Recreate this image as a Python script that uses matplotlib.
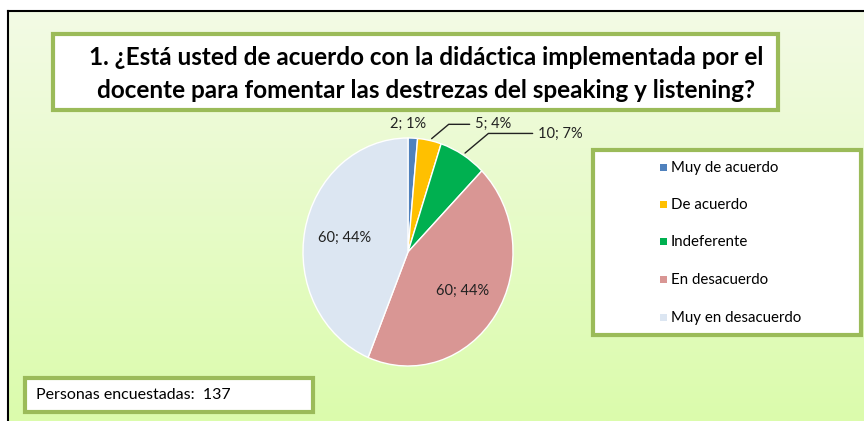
import numpy as np
import matplotlib.pyplot as plt
from matplotlib.patches import Rectangle

categorias = ['Muy de acuerdo', 'De acuerdo', 'Indeferente', 'En desacuerdo', 'Muy en desacuerdo']
valores = [2, 5, 10, 60, 60]
porcentajes = [1, 4, 7, 44, 44]
colores = ['#4f81bd', '#ffc000', '#00b050', '#d99694', '#dce6f2']
titulo = '1. ¿Está usted de acuerdo con la didáctica implementada por el\ndocente para fomentar las destrezas del speaking y listening?'
total = 137

W, H = 864, 421
fig = plt.figure(figsize=(W / 100, H / 100), dpi=100)
fig.patch.set_facecolor('white')

# fondo en pixeles
bg = fig.add_axes([0, 0, 1, 1])
bg.set_xlim(0, W)
bg.set_ylim(H, 0)
bg.axis('off')

# degradado verde
top = np.array([243, 250, 229]) / 255
bot = np.array([219, 252, 172]) / 255
t = np.linspace(0, 1, 200)[:, None]
grad = (top[None, :] * (1 - t) + bot[None, :] * t)[:, None, :]
bg.imshow(grad, extent=[8, W, H, 11], aspect='auto', zorder=0)
bg.plot([8, 8], [11, H], color='black', lw=1.5, zorder=1)
bg.plot([8, W], [11, 11], color='black', lw=1.5, zorder=1)

verde = '#9bbb59'
# caja del titulo
bg.add_patch(Rectangle((53, 34), 725, 76, facecolor='white', edgecolor=verde, lw=3, zorder=2))
bg.text(426, 74, titulo, ha='center', va='center', fontsize=17.5, fontweight='bold',
        family=['Lato', 'DejaVu Sans'], linespacing=1.5, zorder=3)

# leyenda
bg.add_patch(Rectangle((593, 150), 268, 185, facecolor='white', edgecolor=verde, lw=3, zorder=2))
ys = [168, 205, 242, 280, 318]
for cat, col, y in zip(categorias, colores, ys):
    bg.add_patch(Rectangle((660, y - 4), 7, 7, facecolor=col, edgecolor='none', zorder=3))
    bg.text(671, y, cat, ha='left', va='center', fontsize=10.8, family=['Lato', 'DejaVu Sans'], zorder=3)

# caja personas encuestadas
bg.add_patch(Rectangle((25, 378), 288, 34, facecolor='white', edgecolor=verde, lw=3, zorder=2))
bg.text(36, 395, 'Personas encuestadas:  %d' % total, ha='left', va='center', fontsize=11.5,
        family=['Lato', 'DejaVu Sans'], zorder=3)

# pastel
cx, cy, rx, ry = 408, 252, 105, 114
ax = fig.add_axes([(cx - rx) / W, (H - cy - ry) / H, 2 * rx / W, 2 * ry / H])
wedges, _ = ax.pie(valores, colors=colores, startangle=90, counterclock=False,
                   wedgeprops=dict(edgecolor='white', linewidth=1))
ax.set_aspect('auto')
ax.set_xlim(-1, 1)
ax.set_ylim(-1, 1)
ax.axis('off')

etiquetas = ['%d; %d%%' % (v, p) for v, p in zip(valores, porcentajes)]
fuente = dict(fontsize=10.5, family=['Lato', 'DejaVu Sans'], color='#222222')
# rebanadas grandes: dentro
for i in (3, 4):
    w = wedges[i]
    ang = np.deg2rad((w.theta1 + w.theta2) / 2)
    ax.text(0.62 * np.cos(ang), 0.62 * np.sin(ang), etiquetas[i], ha='center', va='center', **fuente)
# rebanadas pequenas: fuera
offsets = [(0.0, 1.12), (0.64, 1.12), (1.24, 1.04)]
for i in range(3):
    w = wedges[i]
    ang = np.deg2rad((w.theta1 + w.theta2) / 2)
    xy = (np.cos(ang), np.sin(ang))
    if i == 0:
        ax.text(offsets[i][0], offsets[i][1], etiquetas[i], ha='center', va='center', **fuente)
    else:
        ax.annotate(etiquetas[i], xy=xy, xytext=offsets[i], ha='left', va='center',
                    arrowprops=dict(arrowstyle='-', color='#222222', lw=1,
                                    connectionstyle='angle,angleA=0,angleB=40'),
                    annotation_clip=False, **fuente)

fig.savefig('out.png', dpi=100)
